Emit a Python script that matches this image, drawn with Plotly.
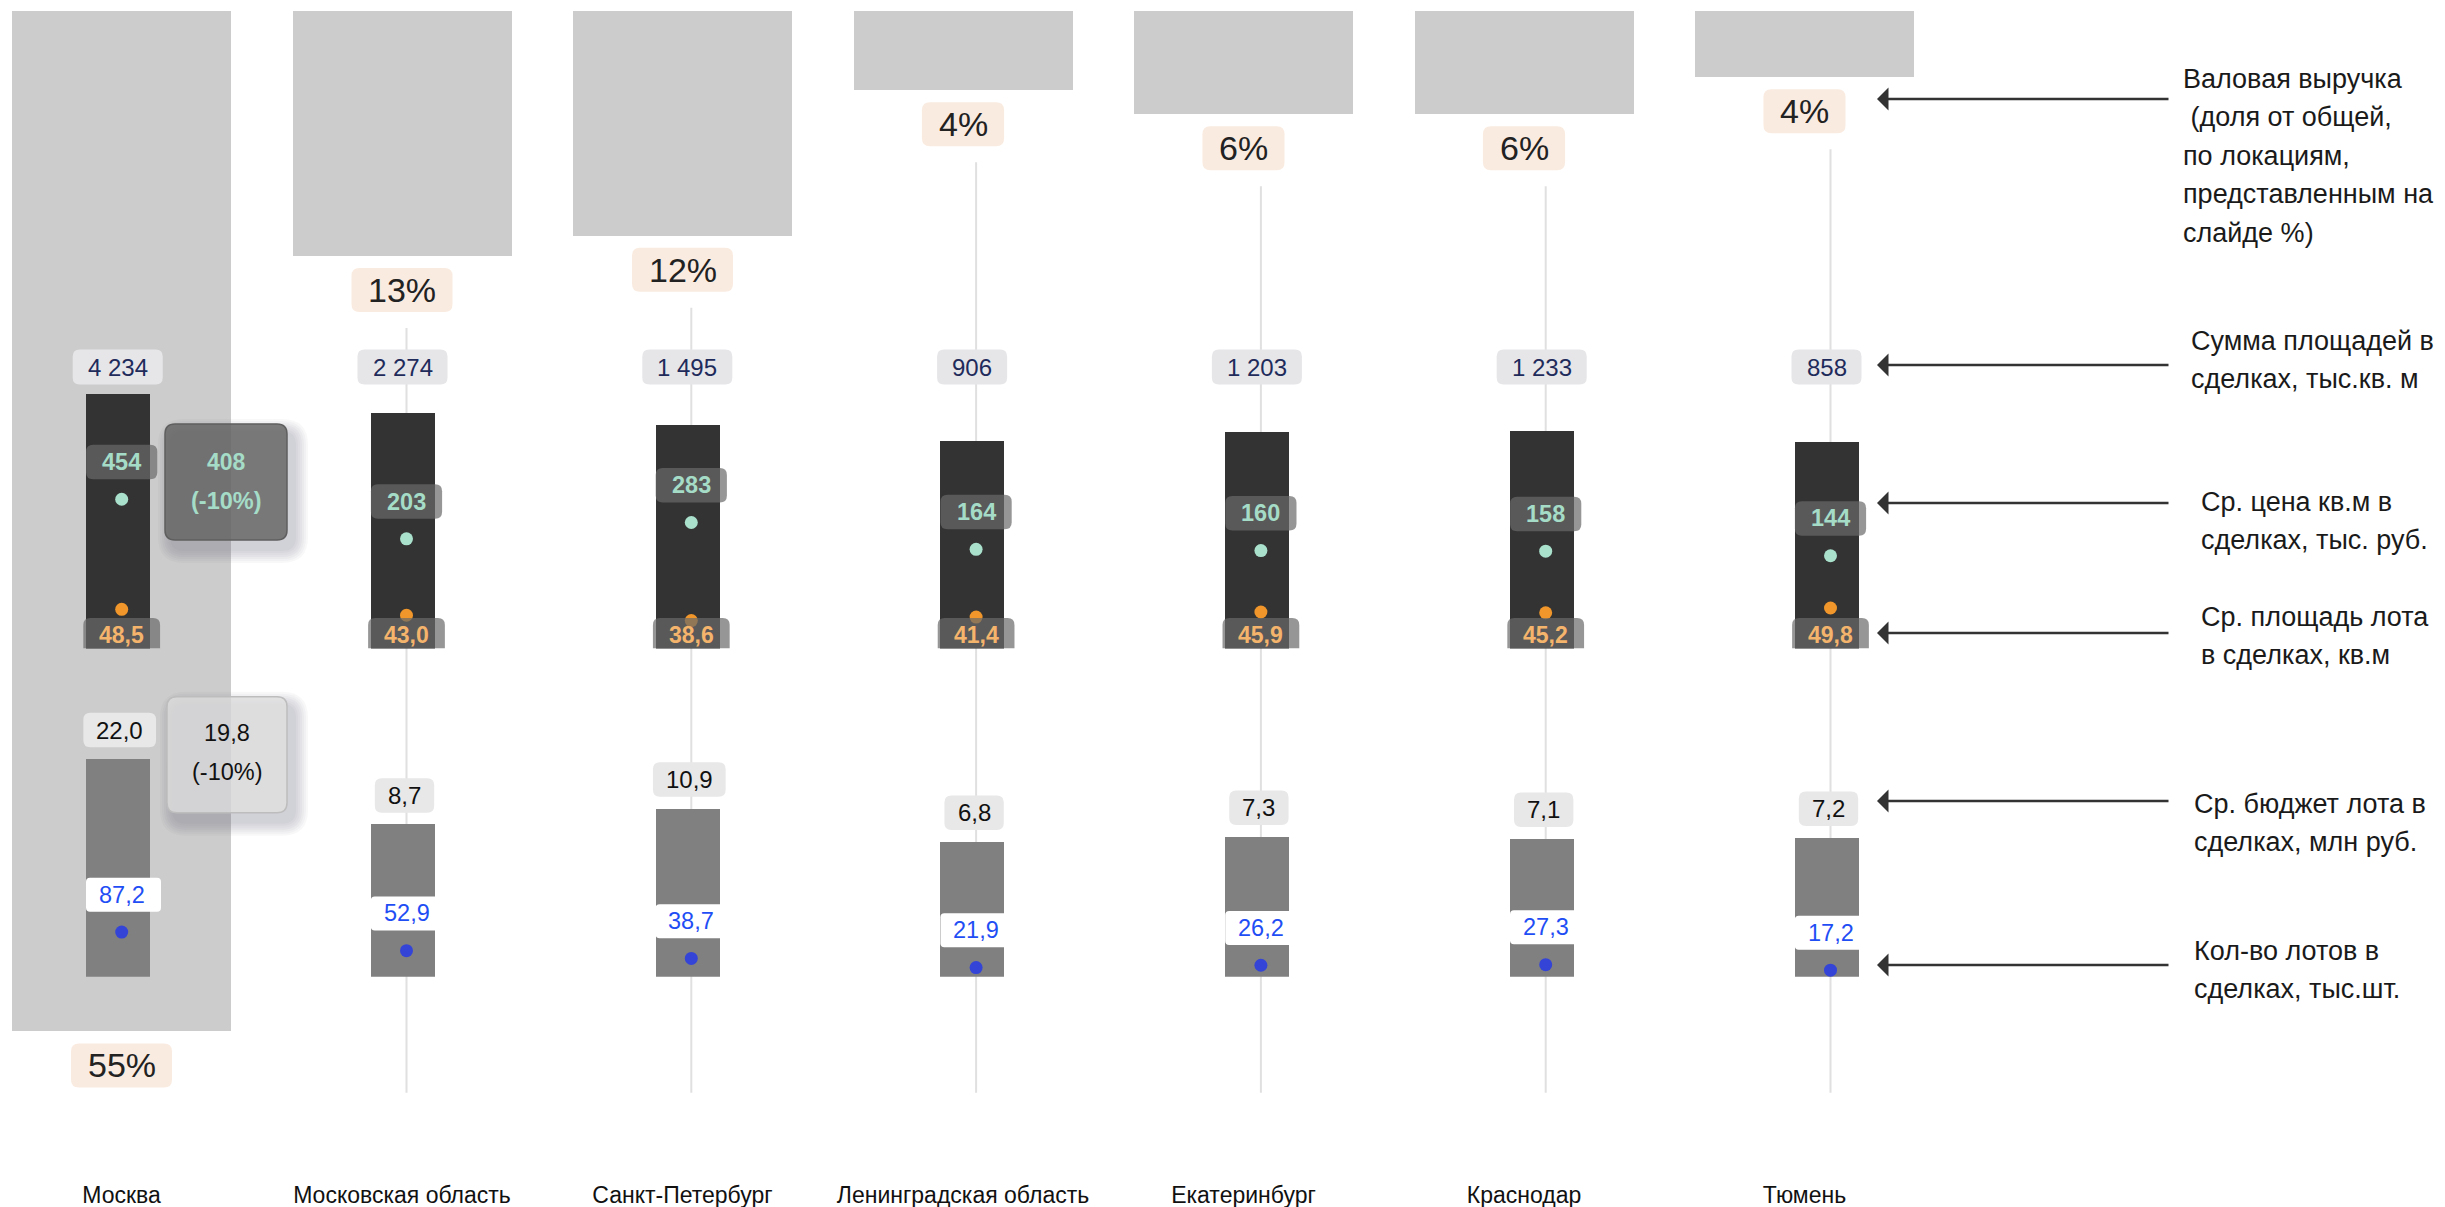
import numpy as np
import plotly.graph_objects as go

# ---------------- data ----------------
cities = ["Москва", "Московская область", "Санкт-Петербург", "Ленинградская область",
          "Екатеринбург", "Краснодар", "Тюмень"]
revenue_share = [55.4, 13.3, 12.2, 4.3, 5.6, 5.6, 3.6]          # % of total gross revenue
area_sum = [4234, 2274, 1495, 906, 1203, 1233, 858]             # тыс. кв. м
price = [454, 203, 283, 164, 160, 158, 144]                     # тыс. руб. за кв. м
lot_area = [48.5, 43.0, 38.6, 41.4, 45.9, 45.2, 49.8]           # кв. м
lot_budget = [22.0, 8.7, 10.9, 6.8, 7.3, 7.1, 7.2]              # млн руб.
lot_count = [87.2, 52.9, 38.7, 21.9, 26.2, 27.3, 17.2]          # тыс. шт.
moscow_price_prev = 408
moscow_budget_prev = 19.8
moscow_change = [-10, -10]

right_labels = [
    ["Валовая выручка", "\u00a0(доля от общей,", "по локациям,", "представленным на", "слайде %)"],
    ["Сумма площадей в", "сделках, тыс.кв. м"],
    ["Ср. цена кв.м в", "сделках, тыс. руб."],
    ["Ср. площадь лота", "в сделках, кв.м"],
    ["Ср. бюджет лота в", "сделках, млн руб."],
    ["Кол-во лотов в", "сделках, тыс.шт."],
]

# ---------------- layout constants (pixels) ----------------
W, H = 2445, 1207
MB = 28
PH = H - MB
FONT = "Liberation Sans, Arial, Helvetica, sans-serif"

TOP_PX, REV_PX = 11.0, 18.42
DARK_BASE_PX, DARK_DEC = 648.5, 70.25
DOT_ONE_PX, DOT_DEC = 800.3, 113.3
BUD_BASE_PX, BUD_DEC = 976.8, 162.2
CNT_ZERO_PX, CNT_UNIT = 979.5, 0.544
X1_C0, X1_STEP = 121.5, 280.5
X2_C0, X2_STEP = 121.7, 284.8
LINE_END_PX = 1092.8

idx = list(range(len(cities)))


def frac(py):
    return 1 - py / PH


def fmt_int(v):
    return f"{v:,}".replace(",", " ")


def fmt_dec(v):
    return f"{v:.1f}".replace(".", ",")


CW = {",": .278, " ": .278, "%": .889, "(": .333, ")": .333, "-": .333}


def tw(s, size):
    return sum(CW.get(c, .556) for c in s) * size


shapes = []
annotations = []


def rbox(xref, yref, xa, ya, cx, cy, w, h, r, fill, line_color=None, line_width=0, top_only=False):
    x0, x1 = cx - w / 2, cx + w / 2
    y0, y1 = cy - h / 2, cy + h / 2
    if top_only:
        p = (f"M {x0},{y0} L {x0},{y1-r} Q {x0},{y1} {x0+r},{y1} L {x1-r},{y1} "
             f"Q {x1},{y1} {x1},{y1-r} L {x1},{y0} Z")
    else:
        p = (f"M {x0+r},{y1} L {x1-r},{y1} Q {x1},{y1} {x1},{y1-r} L {x1},{y0+r} "
             f"Q {x1},{y0} {x1-r},{y0} L {x0+r},{y0} Q {x0},{y0} {x0},{y0+r} "
             f"L {x0},{y1-r} Q {x0},{y1} {x0+r},{y1} Z")
    shapes.append(dict(type="path", xref=xref, yref=yref, xsizemode="pixel", ysizemode="pixel",
                       xanchor=xa, yanchor=ya, path=p, fillcolor=fill, layer="above",
                       line=dict(width=line_width, color=line_color or "rgba(0,0,0,0)")))


def label(xref, yref, x, y, text, size, color, xshift=0, yshift=0, xanchor="center"):
    annotations.append(dict(xref=xref, yref=yref, x=x, y=y, text=text, showarrow=False,
                            font=dict(family=FONT, size=size, color=color),
                            xshift=xshift, yshift=yshift, xanchor=xanchor, yanchor="middle"))


# ---------------- traces ----------------
fig = go.Figure()

fig.add_trace(go.Bar(x=idx, y=revenue_share, xaxis="x", yaxis="y", width=219 / X1_STEP,
                     marker=dict(color="#cccccc", line=dict(width=0)), hoverinfo="skip"))

lx, ly = [], []
line_end = (LINE_END_PX - TOP_PX) / REV_PX
for i, s in enumerate(revenue_share):
    start = s + 72 / REV_PX
    if start < line_end:
        lx += [i, i, None]
        ly += [start, line_end, None]
fig.add_trace(go.Scatter(x=lx, y=ly, xaxis="x2", yaxis="y", mode="lines",
                         line=dict(color="#e0e0e0", width=2), hoverinfo="skip"))

fig.add_trace(go.Bar(x=idx, y=area_sum, xaxis="x2", yaxis="y2", width=64 / X2_STEP,
                     offset=-35.7 / X2_STEP, marker=dict(color="#333333", line=dict(width=0)),
                     hoverinfo="skip"))

fig.add_trace(go.Scatter(x=idx, y=price, xaxis="x2", yaxis="y3", mode="markers",
                         marker=dict(size=13, color="#a9e1cd", line=dict(width=0)), hoverinfo="skip"))
fig.add_trace(go.Scatter(x=idx, y=lot_area, xaxis="x2", yaxis="y3", mode="markers",
                         marker=dict(size=13, color="#f0962a", line=dict(width=0)), hoverinfo="skip"))

fig.add_trace(go.Bar(x=idx, y=lot_budget, xaxis="x2", yaxis="y4", width=64 / X2_STEP,
                     offset=-35.7 / X2_STEP, marker=dict(color="#808080", line=dict(width=0)),
                     hoverinfo="skip"))

fig.add_trace(go.Scatter(x=idx, y=lot_count, xaxis="x2", yaxis="y5", mode="markers",
                         marker=dict(size=13, color="#3344d6", line=dict(width=0)), hoverinfo="skip"))

# ---------------- labels ----------------
for i in idx:
    # revenue share
    t = f"{round(revenue_share[i])}%"
    rbox("x", "y", i, revenue_share[i], 0, -34, tw(t, 34) + 33, 44, 8, "#faebe0")
    label("x", "y", i, revenue_share[i], t, 34, "#222222", yshift=-34)

    # area sum (row label)
    t = fmt_int(area_sum[i])
    rbox("x2", "paper", i, frac(367), -4, 0, tw(t, 24) + 30, 35, 7, "#e6e6e9")
    label("x2", "paper", i, frac(367), t, 24, "#1f2b5b", xshift=-4)

    # price
    t = str(price[i])
    rbox("x2", "y3", i, price[i], 0, 37.3, tw(t, 23.5) + 32, 34.5, 7, "rgba(106,106,106,0.7)")
    label("x2", "y3", i, np.log10(price[i]), f"<b>{t}</b>", 23.5, "#a5dcc7", yshift=37.3)

    # lot area
    t = fmt_dec(lot_area[i])
    rbox("x2", "y2", i, 1, 0, 15.3, tw(t, 23) + 32, 30.6, 7, "rgba(106,106,106,0.7)", top_only=True)
    label("x2", "y2", i, 0, f"<b>{t}</b>", 23, "#f5b46c", yshift=13.5)

    # lot budget
    t = fmt_dec(lot_budget[i])
    rbox("x2", "y4", i, lot_budget[i], -2, 29, tw(t, 24) + 26, 34.5, 7, "#e8e8e8")
    label("x2", "y4", i, np.log10(lot_budget[i]), t, 24, "#111111", xshift=-2, yshift=29)

    # lot count
    t = fmt_dec(lot_count[i])
    rbox("x2", "y5", i, lot_count[i], 1.8, 37.3, 75, 34, 4, "#ffffff")
    label("x2", "y5", i, lot_count[i], t, 23.5, "#1f4ef5", yshift=37.3)

# Moscow comparison boxes with soft shadow
def shadow(yref, ya, cx, cy, w, h):
    for k in range(7):
        g = 4 + k * 4
        rbox("x2", yref, 0, ya, cx + 7, cy - 9, w + g, h + g, 12 + g / 2,
             "rgba(85,88,110,0.045)")

shadow("y3", price[0], 104.3, 17.3, 122, 116)
rbox("x2", "y3", 0, price[0], 104.3, 17.3, 122, 116, 10, "rgba(100,100,100,0.82)",
     line_color="#5f5f5f", line_width=1.5)
label("x2", "y3", 0, np.log10(price[0]), f"<b>{moscow_price_prev}</b>", 23, "#a5dcc7",
      xshift=104.3, yshift=37.3)
label("x2", "y3", 0, np.log10(price[0]), f"<b>({moscow_change[0]}%)</b>", 23.5, "#a5dcc7",
      xshift=104.3, yshift=-1.6)

shadow("y4", lot_budget[0], 105.3, 4.3, 120, 116)
rbox("x2", "y4", 0, lot_budget[0], 105.3, 4.3, 120, 116, 10, "rgba(224,224,224,0.75)",
     line_color="#bdbdbd", line_width=1.5)
label("x2", "y4", 0, np.log10(lot_budget[0]), fmt_dec(moscow_budget_prev), 23.5, "#111111",
      xshift=105.3, yshift=25.6)
label("x2", "y4", 0, np.log10(lot_budget[0]), f"({moscow_change[1]}%)", 23.5, "#111111",
      xshift=105.3, yshift=-12.5)

# right-hand legend with arrows
arrow_py = [99, 365, 503, 633, 801, 965]
text_x = [2181, 2189, 2199, 2199, 2192, 2192]
text_py0 = [79, 341, 502, 617, 804, 951]
for k, lines in enumerate(right_labels):
    annotations.append(dict(xref="paper", yref="paper", x=1877 / W, y=frac(arrow_py[k]),
                            ax=293, ay=0, text="", showarrow=True, arrowhead=1,
                            arrowsize=1.42, arrowwidth=2.7, arrowcolor="#333333", standoff=0))
    for j, ln in enumerate(lines):
        label("paper", "paper", text_x[k] / W, frac(text_py0[k] + j * 38.4), ln, 27,
              "#1a1a1a", xanchor="left")

# ---------------- layout ----------------
fig.update_layout(
    template="none",
    width=W, height=H,
    margin=dict(l=0, r=0, t=0, b=MB, pad=0),
    paper_bgcolor="#ffffff", plot_bgcolor="rgba(0,0,0,0)",
    showlegend=False, barmode="overlay", bargap=0,
    font=dict(family=FONT),
    shapes=shapes, annotations=annotations,
    xaxis=dict(domain=[0, 1], range=[-X1_C0 / X1_STEP, (W - X1_C0) / X1_STEP],
               tickmode="array", tickvals=idx, ticktext=cities, ticks="",
               tickfont=dict(family=FONT, size=23, color="#111111"),
               showgrid=False, zeroline=False, showline=False, automargin=False, anchor="y"),
    xaxis2=dict(domain=[0, 1], range=[-X2_C0 / X2_STEP, (W - X2_C0) / X2_STEP], visible=False,
                showgrid=False, zeroline=False, automargin=False, anchor="y"),
    yaxis=dict(domain=[0, 1], range=[(PH - TOP_PX) / REV_PX, -TOP_PX / REV_PX], visible=False,
               showgrid=False, zeroline=False, automargin=False, anchor="x"),
    yaxis2=dict(type="log", domain=[frac(DARK_BASE_PX), 1], range=[0, DARK_BASE_PX / DARK_DEC],
                visible=False, showgrid=False, zeroline=False, automargin=False, anchor="x2"),
    yaxis3=dict(type="log", domain=[0, 1],
                range=[(DOT_ONE_PX - PH) / DOT_DEC, DOT_ONE_PX / DOT_DEC],
                visible=False, showgrid=False, zeroline=False, automargin=False, anchor="x2"),
    yaxis4=dict(type="log", domain=[frac(BUD_BASE_PX), 1], range=[0, BUD_BASE_PX / BUD_DEC],
                visible=False, showgrid=False, zeroline=False, automargin=False, anchor="x2"),
    yaxis5=dict(domain=[0, 1], range=[(CNT_ZERO_PX - PH) / CNT_UNIT, CNT_ZERO_PX / CNT_UNIT],
                visible=False, showgrid=False, zeroline=False, automargin=False, anchor="x2"),
)

fig.write_html("out.html", config={"displayModeBar": False},
               post_script="document.body.style.margin='0';")
